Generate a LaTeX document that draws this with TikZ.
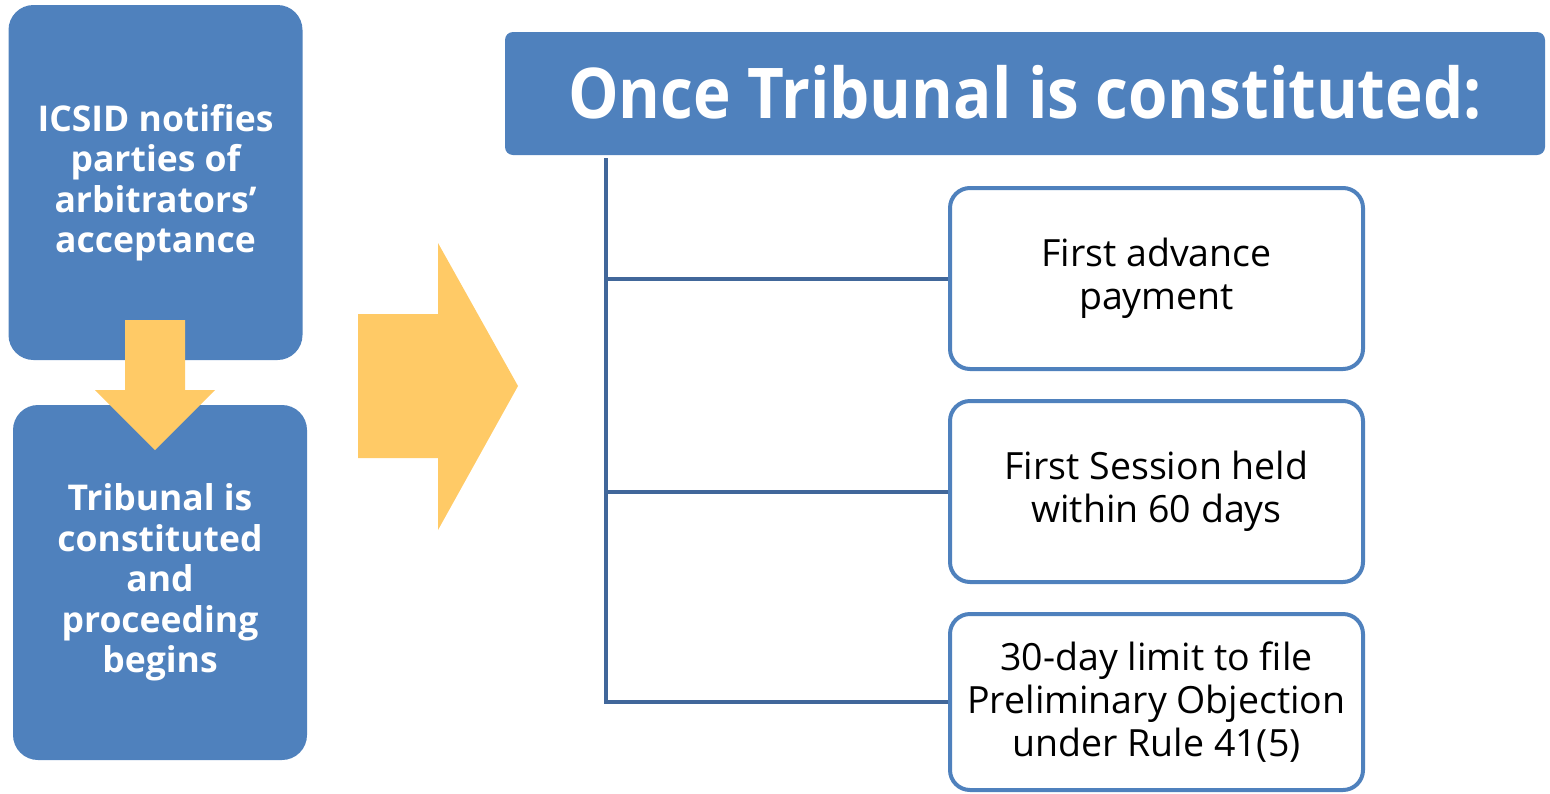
\documentclass[tikz,border=0pt]{standalone}
\usepackage{fontspec}
\setmainfont{Open Sans}
\newfontfamily\headfont[FakeStretch=0.91]{Open Sans}
\definecolor{boxblue}{HTML}{4F81BD}
\definecolor{linkblue}{HTML}{41679A}
\definecolor{arrowgold}{HTML}{FFCA66}
\begin{document}
\begin{tikzpicture}[x=1pt,y=-1pt,
  stagebox/.style={fill=boxblue, rounded corners=25pt, text=white,
    font=\fontsize{35.5}{40.5}\selectfont\bfseries, align=center, inner sep=0pt,
    minimum width=294pt, minimum height=355pt},
  headbox/.style={fill=boxblue, rounded corners=8pt, text=white,
    font=\headfont\fontsize{70}{80}\selectfont\bfseries, inner sep=0pt,
    minimum width=1040pt, minimum height=123pt},
  stepbox/.style={draw=boxblue, line width=4pt, fill=white, rounded corners=20pt,
    text=black, font=\fontsize{37.5}{43}\selectfont, align=center, inner sep=0pt,
    minimum width=413pt},
  link/.style={draw=linkblue, line width=4pt},
  goldarrow/.style={fill=arrowgold}
]
\useasboundingbox (0,0) rectangle (1550,793);

% left column: the two stages
\node[stagebox] (notify) at (155.5,182.5)
  {ICSID notifies\\parties of\\arbitrators’\\acceptance};
\node[stagebox] (constituted) at (160,582.5)
  {Tribunal is\\constituted\\and\\proceeding\\begins};

% arrow from the first stage down to the second
\fill[goldarrow] (125,320) -- (185,320) -- (185,390) -- (215,390)
  -- (155,450) -- (95,390) -- (125,390) -- cycle;

% large arrow pointing to the right-hand list
\fill[goldarrow] (358,314) -- (438,314) -- (438,243) -- (518,386)
  -- (438,530) -- (438,458) -- (358,458) -- cycle;

% heading
\node[headbox] (head) at (1025,93.5) {\raisebox{4pt}{Once Tribunal is constituted:}};

% items that follow
\node[stepbox, minimum height=181pt] (advance) at (1156.5,278.5)
  {First advance\\payment};
\node[stepbox, minimum height=181pt] (session) at (1156.5,491.5)
  {First Session held\\within 60 days};
\node[stepbox, minimum height=176pt] (objection) at (1156.5,702)
  {30-day limit to file\\Preliminary Objection\\under Rule 41(5)};

% trunk line and branches
\coordinate (trunk) at (606,158);
\draw[link] (trunk) |- (objection.west);
\draw[link] (trunk |- advance.west) -- (advance.west);
\draw[link] (trunk |- session.west) -- (session.west);
\end{tikzpicture}
\end{document}
